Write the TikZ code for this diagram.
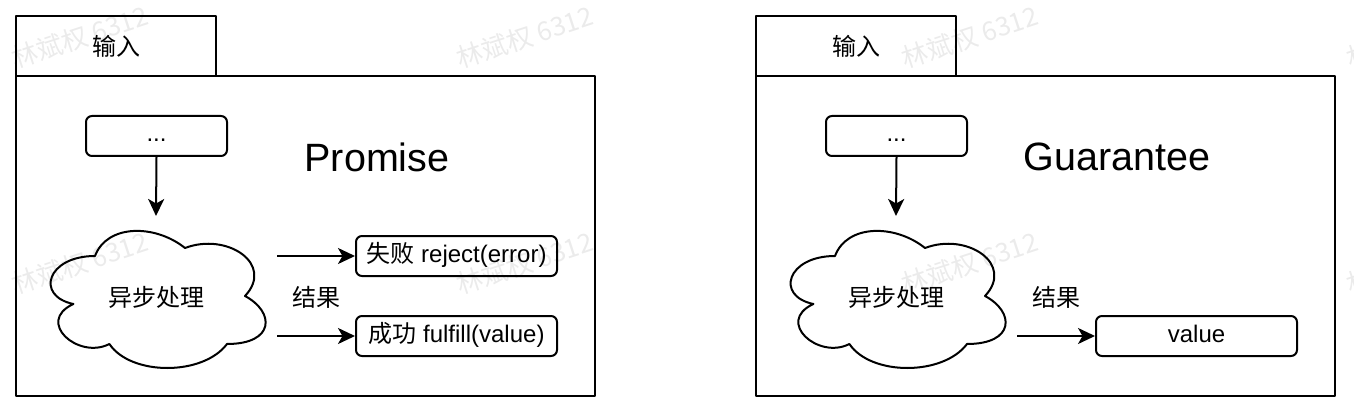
\documentclass[tikz,border=0pt]{standalone}
\usepackage{fontspec}
\setmainfont{Liberation Sans}
\newfontfamily\cjk{Noto Sans CJK SC}
\usetikzlibrary{arrows.meta}
\begin{document}
\begin{tikzpicture}[x=1pt,y=-1pt,
  line width=2pt, line join=round,
  lbl/.style={inner sep=0pt, font=\fontsize{24}{28}\selectfont},
  cjklbl/.style={inner sep=0pt, font=\cjk\fontsize{24}{28}\selectfont},
  frame/.style={draw, rectangle, inner sep=0pt},
  tabbox/.style={frame, minimum width=200pt, minimum height=60pt, font=\cjk\fontsize{24}{28}\selectfont},
  mainbox/.style={frame, minimum width=579pt, minimum height=320pt},
  rbox/.style={draw, rectangle, rounded corners=6pt, inner sep=0pt, minimum height=40pt,
               text height=17pt, text depth=5pt, font=\fontsize{24}{28}\selectfont},
  smallbox/.style={rbox, minimum width=141pt},
  resbox/.style={rbox, minimum width=201pt},
  cloudcell/.style={inner sep=0pt, minimum width=240pt, minimum height=160pt, font=\cjk\fontsize{24}{28}\selectfont},
  title/.style={inner sep=0pt, font=\fontsize{39.5}{46}\selectfont},
  arr/.style={-{Stealth[length=17pt,width=16pt,inset=4.5pt]}},
  wm/.style={font=\cjk\fontsize{26}{30}\selectfont, opacity=0.08, rotate=18, inner sep=0pt}
]
\useasboundingbox (0,0) rectangle (1354,414);
\fill[white] (0,0) rectangle (1354,414);

% ---------- left panel: Promise ----------
\node[tabbox] (tabL) at (116,46) {输入};
\node[mainbox] (mainL) at (305.5,236) {};
\node[smallbox] (dotsL) at (156.5,136) {...};
\node[title] (promise) at (377,157) {Promise};
\node[cloudcell] (cloudL) at (156,297) {};
\begin{scope}[shift={(cloudL.north west)}, x=240pt, y=-160pt]
  \draw (0.25,0.25) .. controls (0.05,0.25) and (0,0.5) .. (0.16,0.55)
        .. controls (0,0.66) and (0.18,0.9) .. (0.31,0.8)
        .. controls (0.4,1) and (0.7,1) .. (0.8,0.8)
        .. controls (1,0.8) and (1,0.6) .. (0.875,0.5)
        .. controls (1,0.3) and (0.8,0.1) .. (0.625,0.2)
        .. controls (0.5,0.05) and (0.3,0.05) .. (0.25,0.25) -- cycle;
\end{scope}
\node[cjklbl] (asyncL) at (cloudL.center) {异步处理};
\node[resbox] (reject) at (456.5,256) {{\cjk 失败} reject(error)};
\node[resbox] (fulfill) at (456.5,336) {{\cjk 成功} fulfill(value)};
\node[cjklbl] (resL) at (316,297) {结果};
\draw[arr] (dotsL.south) -- (cloudL.north);
\draw[arr] (cloudL.east |- reject.west) -- (reject.west);
\draw[arr] (cloudL.east |- fulfill.west) -- (fulfill.west);

% ---------- right panel: Guarantee ----------
\node[tabbox] (tabR) at (856,46) {输入};
\node[mainbox] (mainR) at (1045.5,236) {};
\node[smallbox] (dotsR) at (896.5,136) {...};
\node[title] (guarantee) at (1117,157) {Guarantee};
\node[cloudcell] (cloudR) at (896,297) {};
\begin{scope}[shift={(cloudR.north west)}, x=240pt, y=-160pt]
  \draw (0.25,0.25) .. controls (0.05,0.25) and (0,0.5) .. (0.16,0.55)
        .. controls (0,0.66) and (0.18,0.9) .. (0.31,0.8)
        .. controls (0.4,1) and (0.7,1) .. (0.8,0.8)
        .. controls (1,0.8) and (1,0.6) .. (0.875,0.5)
        .. controls (1,0.3) and (0.8,0.1) .. (0.625,0.2)
        .. controls (0.5,0.05) and (0.3,0.05) .. (0.25,0.25) -- cycle;
\end{scope}
\node[cjklbl] (asyncR) at (cloudR.center) {异步处理};
\node[resbox] (value) at (1196.5,336) {value};
\node[cjklbl] (resR) at (1056,297) {结果};
\draw[arr] (dotsR.south) -- (cloudR.north);
\draw[arr] (cloudR.east |- value.west) -- (value.west);

% ---------- watermark ----------
\foreach \wx [count=\i] in {80,525,970,1415} {
  \node[wm] (wmA\i) at (\wx,37) {林斌权 6312};
  \node[wm] (wmB\i) at (\wx,263) {林斌权 6312};
}
\end{tikzpicture}
\end{document}
